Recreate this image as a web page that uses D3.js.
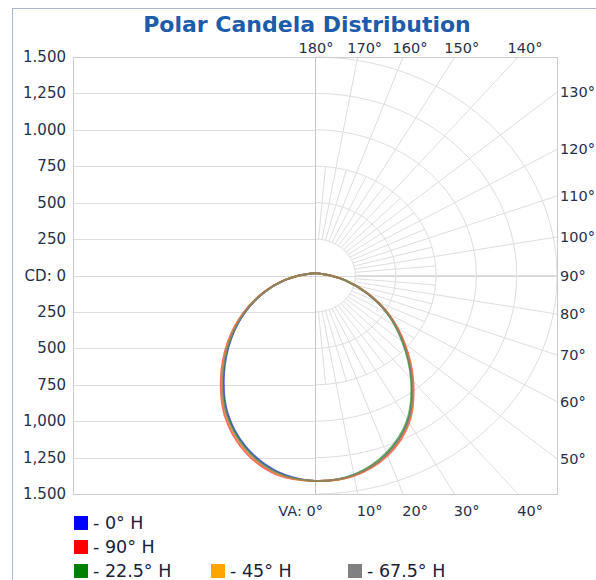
<!DOCTYPE html>
<html>
<head>
<meta charset="utf-8">
<script src="https://cdn.jsdelivr.net/npm/d3@7"></script>
<style>
  body { margin: 0; background: #fff; }
  svg { display: block; }
</style>
</head>
<body>
<svg id="chart" width="596" height="580"></svg>
<script>
// vertical angles (deg from nadir), candela values
const vAngles = [0, 10, 20, 30, 40, 50, 60, 70, 80, 90, 100, 110, 120, 130, 140, 150, 160, 170, 180];

// right half = the H plane, left half = the opposite plane
const h0Right   = [1410, 1392, 1305, 1155, 935, 715, 520, 335, 190, 95, 52, 36, 27, 22, 19, 17, 16, 15, 15];
const h0Left    = [1410, 1365, 1252, 1086, 877, 680, 498, 333, 195, 98, 52, 36, 27, 22, 19, 17, 16, 15, 15];
const h90Right  = [1410, 1396, 1316, 1167, 947, 725, 526, 338, 191, 95, 52, 36, 27, 22, 19, 17, 16, 15, 15];
const h90Left   = [1410, 1386, 1281, 1116, 906, 703, 513, 339, 196, 98, 52, 36, 27, 22, 19, 17, 16, 15, 15];
const h22Right  = [1410, 1388, 1295, 1144, 925, 706, 514, 332, 189, 95, 52, 36, 27, 22, 19, 17, 16, 15, 15];
const h22Left   = [1410, 1370, 1258, 1093, 884, 685, 501, 334, 195, 98, 52, 36, 27, 22, 19, 17, 16, 15, 15];
const h45Right  = [1410, 1394, 1310, 1161, 941, 720, 523, 336, 190, 95, 52, 36, 27, 22, 19, 17, 16, 15, 15];
const h45Left   = [1410, 1379, 1271, 1106, 896, 695, 508, 336, 195, 98, 52, 36, 27, 22, 19, 17, 16, 15, 15];
const h67Right  = [1410, 1392, 1306, 1156, 936, 716, 520, 335, 190, 95, 52, 36, 27, 22, 19, 17, 16, 15, 15];
const h67Left   = [1410, 1375, 1265, 1100, 890, 690, 505, 335, 195, 98, 52, 36, 27, 22, 19, 17, 16, 15, 15];

const seriesNames  = ["- 0° H", "- 90° H", "- 22.5° H", "- 45° H", "- 67.5° H"];
const seriesColors = ["#0000ff", "#ff0000", "#008000", "#ffa500", "#808080"];
const seriesRight  = [h0Right, h90Right, h22Right, h45Right, h67Right];
const seriesLeft   = [h0Left, h90Left, h22Left, h45Left, h67Left];

// tick labels
const cdTicks  = [1500, 1250, 1000, 750, 500, 250, 0, -250, -500, -750, -1000, -1250, -1500];
const cdLabels = ["1.500", "1,250", "1.000", "750", "500", "250", "CD: 0", "250", "500", "750", "1,000", "1,250", "1.500"];
const topAngles    = [180, 170, 160, 150, 140];
const rightAngles  = [130, 120, 110, 100, 90, 80, 70, 60, 50];
const bottomAngles = [0, 10, 20, 30, 40];

const maxCd = 1500;
const font = "'DejaVu Sans', Verdana, sans-serif";
const labelColor = "#27304a";
const gridColor = "#dedede";

const svg = d3.select("#chart");

// outer frame
svg.append("rect")
    .attr("x", 12.5).attr("y", 8.5)
    .attr("width", 700).attr("height", 700)
    .attr("fill", "none")
    .attr("stroke", "#aab6d2");

// the plot box is stretched: x and y scales differ
const x = d3.scaleLinear().domain([-maxCd, maxCd]).range([73, 557]);
const y = d3.scaleLinear().domain([-maxCd, maxCd]).range([494, 57]);

// polar -> screen, angle from nadir, side = +1 right / -1 left
const px = (r, a, side) => x(side * r * Math.sin(a * Math.PI / 180));
const py = (r, a) => y(-r * Math.cos(a * Math.PI / 180));

svg.append("text")
    .attr("x", 307).attr("y", 32)
    .attr("text-anchor", "middle")
    .attr("font-family", font)
    .attr("font-weight", "bold")
    .attr("font-size", 22)
    .attr("fill", "#1c5ca8")
    .text("Polar Candela Distribution");

const grid = svg.append("g").attr("fill", "none").attr("stroke", gridColor).attr("stroke-width", 1);

// left half: horizontal candela lines
grid.selectAll("line.h")
    .data(cdTicks.filter(v => Math.abs(v) < maxCd && v !== 0))
    .join("line")
    .attr("x1", x(-maxCd)).attr("x2", x(0))
    .attr("y1", d => Math.round(y(d)) + 0.5).attr("y2", d => Math.round(y(d)) + 0.5);

// right half: candela ellipses
const ellipse = d3.line();
grid.selectAll("path.ring")
    .data(d3.range(250, maxCd + 1, 250))
    .join("path")
    .attr("d", r => ellipse(d3.range(0, 181, 2).map(a => [px(r, a, 1), py(r, a)])));

// radial lines, every 10 deg to the box edge, every 5 deg part way
const edgeR = a => {
  const s = Math.abs(Math.sin(a * Math.PI / 180)), c = Math.abs(Math.cos(a * Math.PI / 180));
  return Math.min(s > 1e-6 ? maxCd / s : Infinity, c > 1e-6 ? maxCd / c : Infinity);
};
grid.selectAll("line.major")
    .data(d3.range(10, 171, 10))
    .join("line")
    .attr("x1", a => px(250, a, 1)).attr("y1", a => py(250, a))
    .attr("x2", a => px(edgeR(a), a, 1)).attr("y2", a => py(edgeR(a), a));
grid.selectAll("line.minor")
    .data(d3.range(5, 176, 10))
    .join("line")
    .attr("x1", a => px(250, a, 1)).attr("y1", a => py(250, a))
    .attr("x2", a => px(750, a, 1)).attr("y2", a => py(750, a));

// zero line and centre line
svg.append("line")
    .attr("x1", x(-maxCd)).attr("x2", x(maxCd))
    .attr("y1", Math.round(y(0)) + 0.5).attr("y2", Math.round(y(0)) + 0.5)
    .attr("stroke", "#d8d8d8");
svg.append("line")
    .attr("x1", Math.round(x(0)) + 0.5).attr("x2", Math.round(x(0)) + 0.5)
    .attr("y1", y(maxCd)).attr("y2", y(-maxCd))
    .attr("stroke", "#c4c4c4");

// plot box
svg.append("rect")
    .attr("x", x(-maxCd) + 0.5).attr("y", y(maxCd) + 0.5)
    .attr("width", x(maxCd) - x(-maxCd)).attr("height", y(-maxCd) - y(maxCd))
    .attr("fill", "none")
    .attr("stroke", "#cccccc");

// candela axis labels
svg.append("g")
    .attr("font-family", font).attr("font-size", 15).attr("fill", labelColor)
    .attr("text-anchor", "end")
    .selectAll("text")
    .data(cdTicks)
    .join("text")
    .attr("x", 66)
    .attr("y", d => y(d) + 5)
    .text((d, i) => cdLabels[i]);

// angle labels
const angleG = svg.append("g").attr("font-family", font).attr("font-size", 14.5).attr("fill", labelColor);
angleG.selectAll("text.top")
    .data(topAngles)
    .join("text")
    .attr("text-anchor", "middle")
    .attr("x", a => px(edgeR(a), a, 1) + (a === 180 ? 1 : 7))
    .attr("y", 53)
    .text(a => a + "°");
angleG.selectAll("text.right")
    .data(rightAngles)
    .join("text")
    .attr("x", 560)
    .attr("y", a => py(edgeR(a), a) + 5)
    .text(a => a + "°");
angleG.selectAll("text.bottom")
    .data(bottomAngles)
    .join("text")
    .attr("text-anchor", a => a === 0 ? "end" : "middle")
    .attr("x", a => a === 0 ? x(0) + 8 : px(edgeR(a), a, 1) + 12)
    .attr("y", 516)
    .text(a => a === 0 ? "VA: 0°" : a + "°");

// candela curves
svg.append("clipPath").attr("id", "plotClip")
  .append("rect")
    .attr("x", x(-maxCd)).attr("y", y(maxCd))
    .attr("width", x(maxCd) - x(-maxCd)).attr("height", y(-maxCd) - y(maxCd));

const curve = d3.line().curve(d3.curveCatmullRomClosed.alpha(0.5));
const curveG = svg.append("g").attr("clip-path", "url(#plotClip)").attr("fill", "none");
seriesNames.forEach((name, i) => {
  const pts = [];
  for (let k = vAngles.length - 1; k >= 1; k--) pts.push([px(seriesLeft[i][k], vAngles[k], -1), py(seriesLeft[i][k], vAngles[k])]);
  for (let k = 0; k < vAngles.length - 1; k++) pts.push([px(seriesRight[i][k], vAngles[k], 1), py(seriesRight[i][k], vAngles[k])]);
  curveG.append("path")
      .attr("d", curve(pts))
      .attr("stroke", seriesColors[i])
      .attr("stroke-width", i === 4 ? 1.8 : 2)
      .attr("stroke-opacity", i === 4 ? 0.7 : 0.6);
});

// legend
const legendPos = [[74, 516], [74, 540], [74, 564], [211, 564], [348, 564]];
const legend = svg.append("g").attr("font-family", font).attr("font-size", 17.5).attr("fill", "#1a2238");
seriesNames.forEach((name, i) => {
  const [lx, ly] = legendPos[i];
  legend.append("rect")
      .attr("x", lx).attr("y", ly)
      .attr("width", 14).attr("height", 14)
      .attr("fill", seriesColors[i]);
  legend.append("text")
      .attr("x", lx + 19).attr("y", ly + 13)
      .text(name);
});
</script>
</body>
</html>
